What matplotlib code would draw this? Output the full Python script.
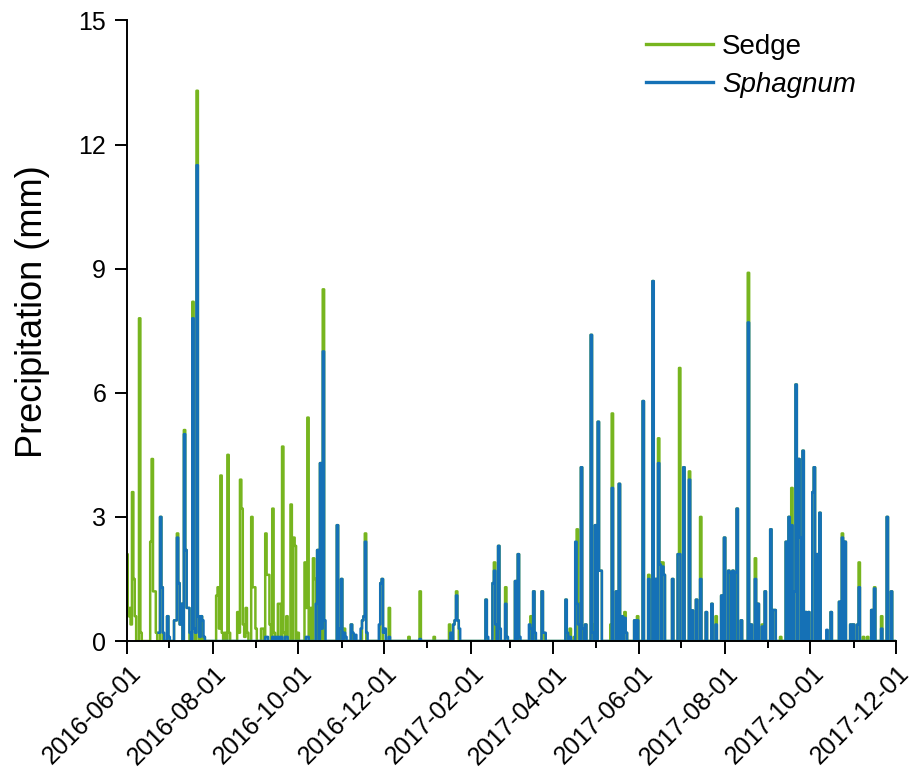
import numpy as np
import pandas as pd
import matplotlib
matplotlib.use("Agg")
import matplotlib.pyplot as plt
import matplotlib.dates as mdates
import matplotlib.transforms as mtransforms
from matplotlib.lines import Line2D

plt.rcParams['font.family'] = ['Liberation Sans', 'DejaVu Sans']

# Daily precipitation events, as days since 2016-06-01 (all other days are dry)
start = "2016-06-01"
end = "2017-12-01"

sedge_days = [0, 1, 2, 3, 4, 5, 6, 9, 10, 17, 18, 19, 20, 21, 24, 25, 29, 34, 35, 36, 37, 38,
              39, 41, 42, 43, 44, 47, 48, 50, 51, 53, 55, 64, 65, 66, 67, 68, 70, 72, 73, 79, 80,
              81, 82, 83, 84, 85, 86, 89, 90, 91, 92, 96, 97, 99, 100, 101, 102, 104, 105, 108,
              109, 111, 112, 114, 117, 119, 120, 122, 127, 128, 129, 131, 133, 134, 136, 138,
              140, 150, 153, 155, 160, 168, 169, 170, 181, 182, 187, 201, 209, 219, 230, 233,
              234, 235, 236, 256, 261, 262, 265, 270, 271, 277, 279, 288, 290, 296, 297, 313,
              316, 319, 321, 322, 324, 327, 331, 332, 334, 336, 337, 338, 345, 346, 349, 351,
              353, 355, 356, 362, 364, 368, 372, 375, 377, 379, 380, 382, 383, 389, 393, 394,
              397, 401, 403, 406, 409, 413, 417, 420, 424, 426, 429, 432, 435, 438, 443, 445,
              448, 450, 453, 455, 459, 461, 462, 466, 470, 472, 474, 476, 477, 479, 480, 482,
              484, 486, 489, 490, 492, 494, 502, 508, 510, 512, 516, 518, 521, 522, 525, 528,
              531, 533, 538, 542, 545]
sedge_mm = [2.1, 0.6, 0.8, 0.4, 3.6, 1.5, 0.6, 7.8, 0.2, 2.4, 4.4, 1.2, 1.2, 0.2, 3.0, 1.3, 0.6,
            0.5, 0.5, 2.6, 1.4, 0.4, 0.9, 5.1, 2.2, 0.8, 0.8, 8.2, 0.3, 13.3, 0.6, 0.6, 0.1, 1.1,
            1.3, 0.3, 4.0, 0.2, 0.2, 4.5, 0.2, 0.7, 0.2, 3.9, 3.2, 0.4, 0.1, 0.8, 0.2, 3.0, 1.3,
            1.3, 0.3, 0.3, 0.3, 2.6, 1.6, 1.6, 0.4, 3.2, 0.2, 0.9, 0.9, 4.7, 0.2, 0.6, 3.3, 2.5,
            2.3, 0.2, 1.9, 0.8, 5.4, 0.8, 2.0, 1.5, 2.2, 4.3, 8.5, 2.8, 1.5, 0.3, 0.4, 0.5, 0.6,
            2.6, 1.4, 1.5, 0.8, 0.1, 1.2, 0.1, 0.4, 0.4, 0.5, 1.2, 0.5, 1.0, 1.4, 1.9, 2.3, 1.3,
            0.1, 1.45, 2.1, 0.6, 1.2, 1.2, 0.2, 1.0, 0.3, 0.1, 2.7, 0.9, 4.2, 0.4, 7.4, 0.4, 2.8,
            5.3, 1.7, 1.7, 0.4, 5.5, 1.2, 3.8, 0.6, 0.7, 0.2, 0.5, 0.6, 5.8, 1.6, 8.7, 1.5, 4.9,
            1.9, 1.9, 1.6, 1.5, 2.1, 6.6, 4.2, 4.1, 0.74, 1.0, 3.0, 0.7, 0.9, 0.6, 1.1, 2.5, 1.7,
            1.7, 3.2, 0.5, 8.9, 0.4, 2.0, 0.9, 0.4, 1.2, 2.7, 0.75, 0.75, 0.1, 2.4, 3.0, 3.7, 1.2,
            6.2, 4.4, 2.5, 4.6, 0.7, 0.7, 3.6, 4.2, 2.1, 3.1, 0.7, 0.95, 2.6, 2.4, 0.4, 0.4, 0.4,
            1.9, 0.1, 0.1, 0.75, 1.3, 0.6, 3.0, 1.2]

sphagnum_first_day = 23
sphagnum_days = [23, 24, 25, 26, 29, 30, 34, 35, 36, 37, 38, 39, 41, 42, 43, 44, 45, 47, 48, 49,
                 50, 51, 52, 53, 54, 55, 99, 100, 104, 106, 108, 110, 113, 114, 128, 129, 135,
                 136, 138, 139, 140, 141, 150, 152, 153, 155, 156, 160, 161, 163, 167, 168, 169,
                 170, 171, 180, 181, 182, 183, 184, 187, 209, 231, 233, 234, 235, 236, 237, 256,
                 257, 261, 262, 263, 265, 266, 270, 271, 277, 279, 280, 287, 288, 290, 291, 296,
                 297, 298, 313, 314, 316, 320, 321, 322, 324, 325, 327, 331, 332, 334, 336, 337,
                 338, 346, 349, 351, 353, 355, 356, 362, 364, 368, 372, 375, 377, 379, 380, 382,
                 383, 389, 393, 394, 397, 401, 403, 406, 409, 413, 417, 420, 424, 426, 429, 430,
                 432, 434, 435, 438, 443, 445, 448, 450, 453, 455, 459, 461, 462, 470, 472, 474,
                 476, 477, 479, 480, 482, 484, 486, 489, 490, 492, 494, 499, 502, 508, 510, 512,
                 516, 518, 521, 522, 531, 533, 538, 542, 545]
sphagnum_mm = [0.2, 3.0, 1.3, 0.2, 0.6, 0.1, 0.5, 0.5, 2.5, 1.4, 0.4, 0.9, 5.0, 2.2, 0.8, 0.8, 0.2,
               7.8, 0.3, 0.2, 11.5, 0.6, 0.1, 0.6, 0.5, 0.1, 0.1, 0.1, 0.1, 0.1, 0.1, 0.1, 0.1,
               0.1, 0.1, 0.1, 0.9, 2.2, 4.3, 0.3, 7.0, 0.5, 2.8, 0.3, 1.5, 0.2, 0.1, 0.4, 0.2,
               0.15, 0.3, 0.5, 0.6, 2.4, 0.2, 0.4, 1.4, 1.5, 0.2, 0.3, 0.1, 0.05, 0.2, 0.4, 0.5,
               1.1, 0.5, 0.3, 1.0, 0.1, 1.4, 1.7, 0.4, 2.3, 0.3, 0.9, 0.1, 1.45, 2.1, 0.1, 0.4,
               0.3, 1.2, 0.2, 1.2, 0.2, 0.2, 1.0, 0.2, 0.1, 2.4, 0.9, 0.4, 4.2, 0.3, 0.4, 7.4,
               0.2, 2.8, 5.3, 1.7, 1.7, 3.7, 1.2, 3.8, 0.6, 0.56, 0.2, 0.5, 0.5, 5.8, 1.5, 8.7,
               1.5, 4.3, 1.85, 1.8, 1.6, 1.5, 2.1, 2.1, 4.2, 3.9, 0.74, 1.0, 1.5, 0.7, 0.9, 0.4,
               1.1, 2.5, 1.7, 1.66, 1.7, 1.66, 3.2, 0.5, 7.7, 0.4, 1.5, 0.9, 0.35, 1.2, 2.7,
               0.75, 0.75, 2.4, 3.0, 2.8, 1.2, 6.2, 4.4, 2.5, 4.6, 0.7, 0.7, 3.6, 4.2, 2.1, 3.1,
               0.27, 0.7, 0.95, 2.5, 2.4, 0.4, 0.4, 0.4, 1.3, 0.75, 1.27, 0.3, 3.0, 1.2]

series_names = ["Sedge", "Sphagnum"]
colors = ["#77b51f", "#1571b6"]

dates = pd.date_range(start, end, freq="D")
n = len(dates)

sedge = np.zeros(n)
sedge[sedge_days] = sedge_mm

sphagnum = np.zeros(n)
sphagnum[sphagnum_days] = sphagnum_mm
sphagnum[:sphagnum_first_day] = np.nan

fig = plt.figure(figsize=(9.14, 7.70), dpi=100)
ax = fig.add_axes([0.139, 0.1675, 0.841, 0.806])

ax.plot(dates, sedge, color=colors[0], lw=1.8, drawstyle="steps-mid")
ax.plot(dates, sphagnum, color=colors[1], lw=1.8, drawstyle="steps-mid")

ax.set_xlim(pd.Timestamp(start), pd.Timestamp(end))
ax.set_ylim(0, 15)
ax.set_yticks(np.arange(0, 16, 3))

ax.xaxis.set_major_locator(mdates.MonthLocator(bymonth=[2, 4, 6, 8, 10, 12]))
ax.xaxis.set_minor_locator(mdates.MonthLocator())
ax.xaxis.set_major_formatter(mdates.DateFormatter("%Y-%m-%d"))

for side in ("top", "right"):
    ax.spines[side].set_visible(False)
for side in ("left", "bottom"):
    ax.spines[side].set_linewidth(1.4)

ax.tick_params(axis="both", which="major", direction="out", length=9, width=1.4,
               labelsize=18, colors="black")
ax.tick_params(axis="y", which="major", pad=6)
ax.tick_params(axis="x", which="minor", direction="out", length=5, width=1.4)

label_shift = mtransforms.ScaledTranslation(0.015, -0.03, fig.dpi_scale_trans)
for lbl in ax.get_xticklabels():
    lbl.set_rotation(45)
    lbl.set_ha("right")
    lbl.set_rotation_mode("anchor")
    lbl.set_transform(lbl.get_transform() + label_shift)

ax.set_ylabel("Precipitation (mm)", fontsize=26)
ax.yaxis.set_label_coords(-0.1, 0.53)

handles = [Line2D([0], [0], color=c, lw=2.4) for c in colors]
leg = ax.legend(handles, series_names, loc="upper right", frameon=False, fontsize=20,
                handlelength=2.4, handletextpad=0.33, labelspacing=0.42,
                bbox_to_anchor=(0.97, 1.005), borderaxespad=0.2)
leg.get_texts()[1].set_fontstyle("italic")

fig.savefig("out.png", dpi=100)
